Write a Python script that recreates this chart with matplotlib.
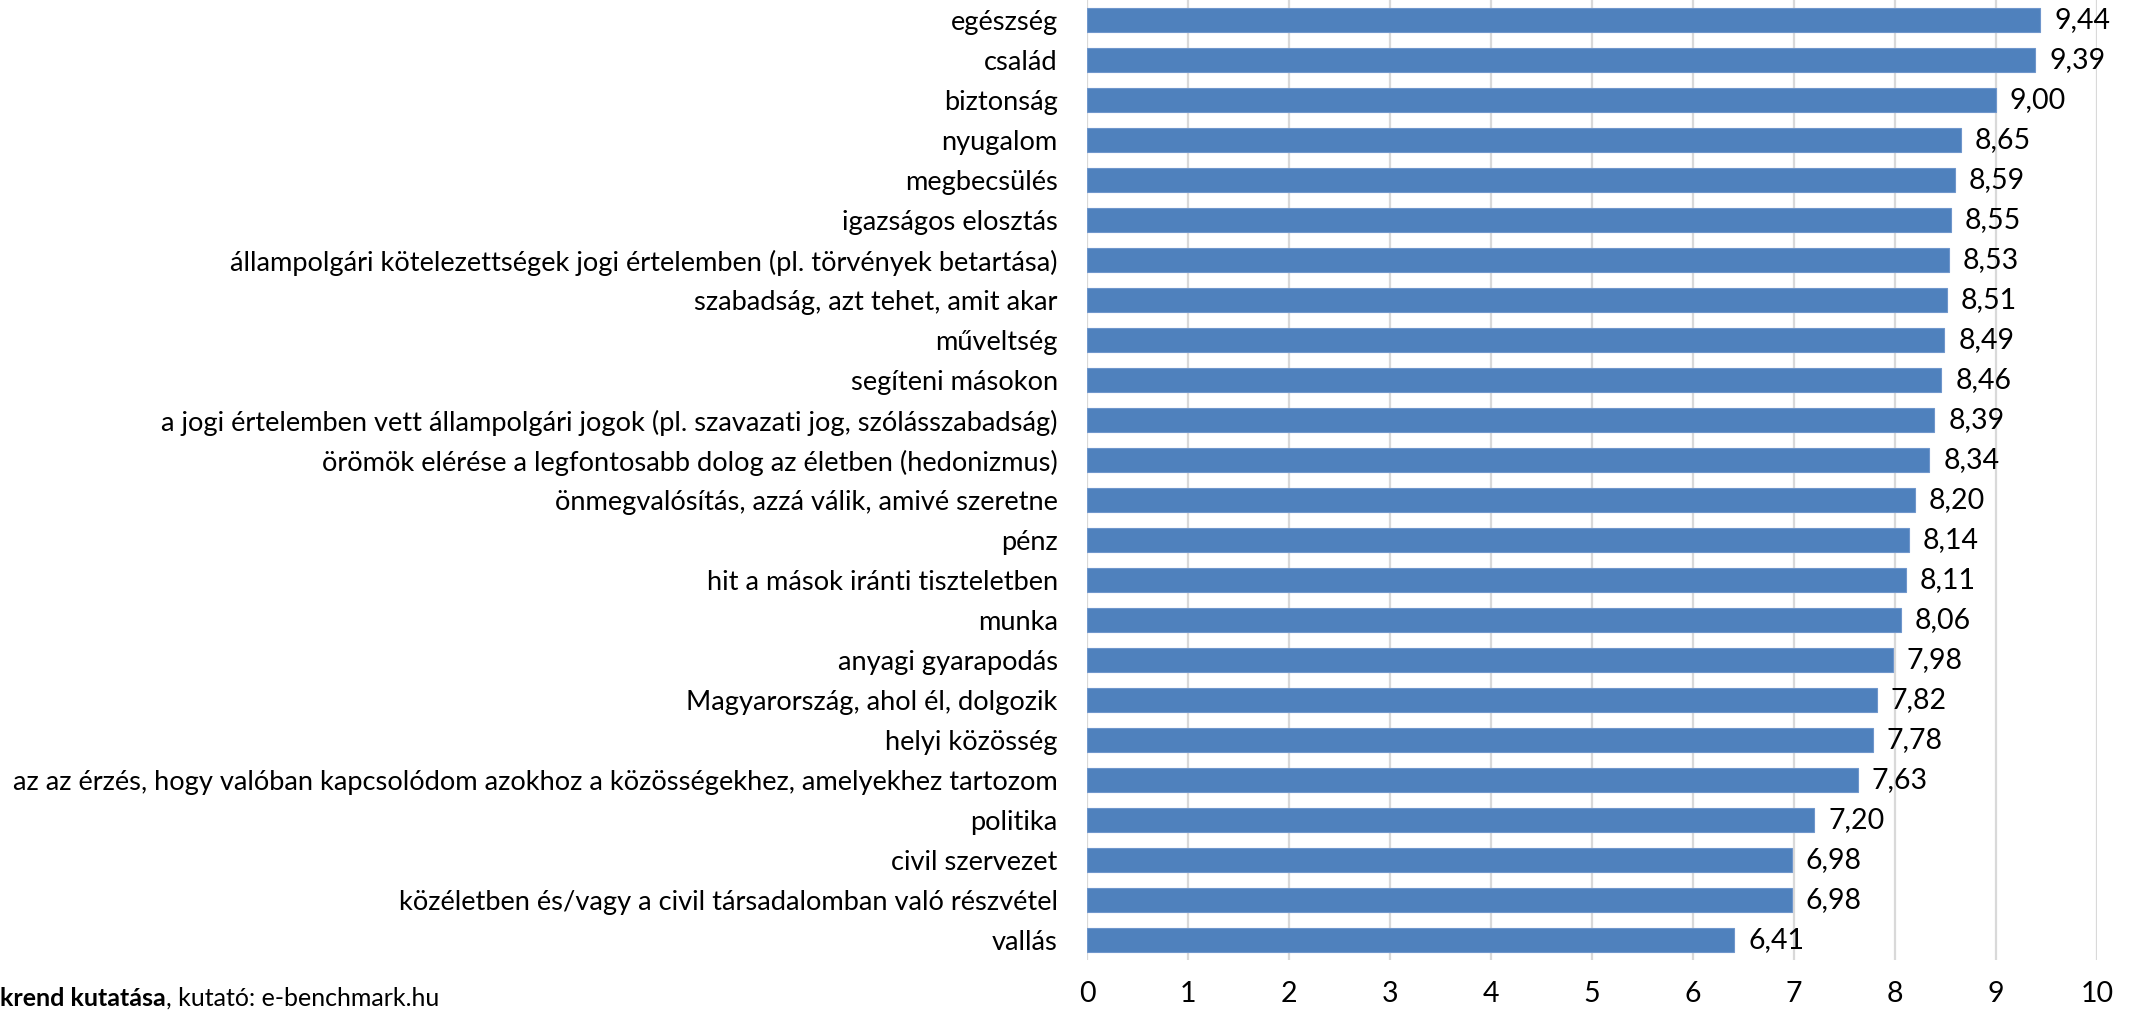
import matplotlib
matplotlib.use("Agg")
import matplotlib.pyplot as plt

categories = [
    "egészség",
    "család",
    "biztonság",
    "nyugalom",
    "megbecsülés",
    "igazságos elosztás",
    "állampolgári kötelezettségek jogi értelemben (pl. törvények betartása)",
    "szabadság, azt tehet, amit akar",
    "műveltség",
    "segíteni másokon",
    "a jogi értelemben vett állampolgári jogok (pl. szavazati jog, szólásszabadság)",
    "örömök elérése a legfontosabb dolog az életben (hedonizmus)",
    "önmegvalósítás, azzá válik, amivé szeretne",
    "pénz",
    "hit a mások iránti tiszteletben",
    "munka",
    "anyagi gyarapodás",
    "Magyarország, ahol él, dolgozik",
    "helyi közösség",
    "az az érzés, hogy valóban kapcsolódom azokhoz a közösségekhez, amelyekhez tartozom",
    "politika",
    "civil szervezet",
    "közéletben és/vagy a civil társadalomban való részvétel",
    "vallás",
]
values = [9.44, 9.39, 9.00, 8.65, 8.59, 8.55, 8.53, 8.51, 8.49, 8.46, 8.39,
          8.34, 8.20, 8.14, 8.11, 8.06, 7.98, 7.82, 7.78, 7.63, 7.20, 6.98,
          6.98, 6.41]
x_ticks = list(range(0, 11))
source_bold = "krend kutatása"
source_rest = ", kutató: e-benchmark.hu"

FONT = "Lato"
FS_LABEL = 19.6
FS_VALUE = 20.5
FS_TICK = 20.5
FS_SOURCE = 18
BAR_COLOR = "#4f81bd"
GRID_COLOR = "#d9d9d9"

plt.rcParams["font.family"] = [FONT, "DejaVu Sans"]

W, H = 2136, 1010
fig = plt.figure(figsize=(W / 100, H / 100), dpi=100)
left, right, top, bottom = 1087, 2097, 0, 960
ax = fig.add_axes([left / W, 1 - bottom / H, (right - left) / W, (bottom - top) / H])

y = list(range(len(categories)))
ax.barh(y, values, height=0.62, color=BAR_COLOR, edgecolor="#6f96cc",
        linewidth=0.8, zorder=3)

for yi, v in zip(y, values):
    ax.annotate(f"{v:.2f}".replace(".", ","), xy=(v, yi), xytext=(10, 0),
                textcoords="offset points", ha="left", va="center",
                fontsize=FS_VALUE, color="black")

ax.set_xlim(0, 10)
ax.set_ylim(len(categories) - 0.5, -0.5)
ax.set_xticks(x_ticks)
ax.set_xticklabels([str(t) for t in x_ticks], fontsize=FS_TICK)
ax.set_yticks(y)
ax.set_yticklabels(categories, fontsize=FS_LABEL)
ax.tick_params(axis="both", length=0)
ax.tick_params(axis="y", pad=21)
ax.tick_params(axis="x", pad=15)
for s in ax.spines.values():
    s.set_visible(False)
ax.grid(axis="x", color=GRID_COLOR, linewidth=1.6, zorder=0)
ax.set_axisbelow(True)

t1 = fig.text(0.0, 1 - 998 / H, source_bold, fontsize=FS_SOURCE,
              fontweight="bold", ha="left", va="center")
fig.canvas.draw()
ax.annotate(source_rest, xy=(1, 0.5), xycoords=t1, ha="left", va="center",
            fontsize=FS_SOURCE, annotation_clip=False)

fig.savefig("out.png", dpi=100)
